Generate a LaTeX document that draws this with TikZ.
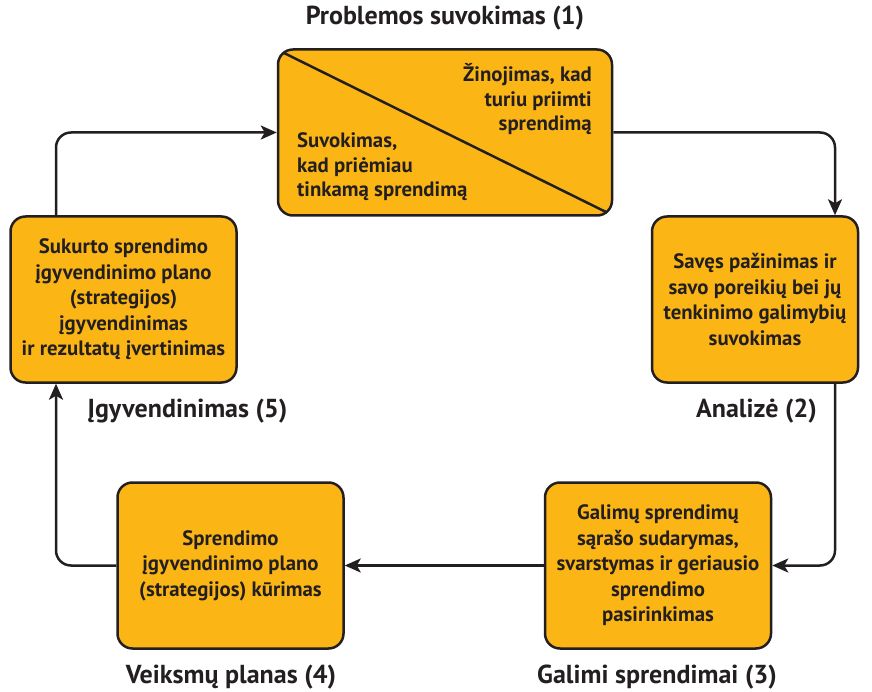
\documentclass[tikz,border=0pt]{standalone}
\usepackage{fontspec}
\setmainfont{PT Sans}
\usetikzlibrary{arrows.meta}
\definecolor{boxfill}{HTML}{FBB615}
\definecolor{ink}{HTML}{231F20}
\begin{document}
\begin{tikzpicture}[x=1pt,y=-1pt,
 box/.style={draw=ink, fill=boxfill, line width=2.5pt, rounded corners=15pt, minimum width=226pt, minimum height=166pt, align=center, font=\bfseries\fontsize{20.8}{25.5}\selectfont, text=ink, inner sep=0pt},
 boxtxt/.style={font=\bfseries\fontsize{20.8}{24.5}\selectfont, text=ink, inner sep=0pt},
 lab/.style={font=\bfseries\fontsize{26}{30}\selectfont, text=ink, inner sep=0pt},
 conn/.style={draw=ink, line width=2.5pt, rounded corners=15pt, -{Stealth[length=16pt,width=14pt,inset=4pt]}}]
\useasboundingbox (0,0) rectangle (872,692);
% boxes
\node[box, minimum width=334pt] (b1) at (445,132.5) {};
\draw[ink, line width=2.5pt] (284,53) -- (607,212.5);
\node[boxtxt, anchor=base east, align=right] (t1a) at (592,131) {Žinojimas, kad\\turiu priimti\\sprendimą};
\node[boxtxt, anchor=base west, align=left] (t1b) at (297,197) {Suvokimas,\\kad priėmiau\\tinkamą sprendimą};
\node[box, minimum width=206pt] (b2) at (755,299.5) {Savęs pažinimas ir\\savo poreikių bei jų\\tenkinimo galimybių\\suvokimas};
\node[box] (b3) at (658,565.5) {Galimų sprendimų\\sąrašo sudarymas,\\svarstymas ir geriausio\\sprendimo\\pasirinkimas};
\node[box] (b4) at (230.5,565.5) {Sprendimo\\įgyvendinimo plano\\(strategijos) kūrimas};
\node[box] (b5) at (123.5,299.5) {Sukurto sprendimo\\įgyvendinimo plano\\(strategijos)\\įgyvendinimas\\ir rezultatų įvertinimas};
% labels
\node[lab] (l1) at (445,18) {Problemos suvokimas (1)};
\node[lab, anchor=east] (l2) at (817,411) {Analizė (2)};
\node[lab] (l3) at (657,677) {Galimi sprendimai (3)};
\node[lab] (l4) at (231,677) {Veiksmų planas (4)};
\node[lab] (l5) at (187.5,411) {Įgyvendinimas (5)};
% connectors
\draw[conn] (b1.east) -| ([xshift=80pt]b2.north);
\draw[conn] ([xshift=80pt]b2.south) |- (b3.east);
\draw[conn] (b3.west) -- (b4.east);
\draw[conn] (b4.west) -| ([xshift=-67.5pt]b5.south);
\draw[conn] ([xshift=-67.5pt]b5.north) |- (b1.west);
\end{tikzpicture}
\end{document}
